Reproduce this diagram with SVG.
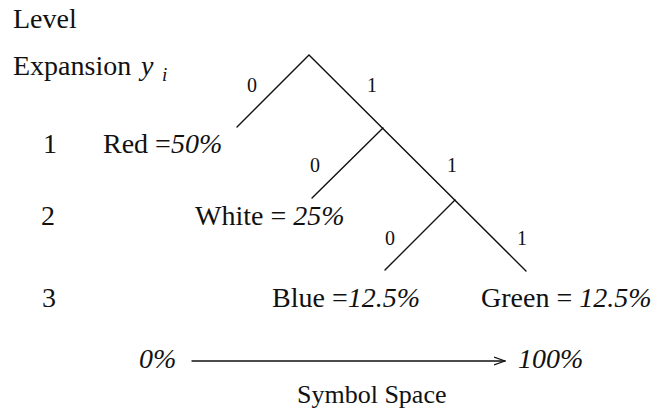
<svg xmlns="http://www.w3.org/2000/svg" width="657" height="413" viewBox="0 0 657 413">
<defs>
<style>
text { font-family: "Liberation Serif", "Times New Roman", serif; fill: #111; }
.t { font-size: 28px; }
.lbl { font-size: 20px; text-anchor: middle; }
.it { font-family: "Liberation Serif", "DejaVu Serif", serif; font-style: italic; }
.edge { stroke: #111; stroke-width: 1.4; fill: none; stroke-linecap: round; }
</style>
<marker id="arr" viewBox="0 0 12 10" refX="11" refY="5" markerWidth="12" markerHeight="10" markerUnits="userSpaceOnUse" orient="auto">
<path d="M0,1 L11,5 L0,9" fill="none" stroke="#111" stroke-width="1.2"/>
</marker>
</defs>
<rect width="657" height="413" fill="#fff"/>

<g id="header">
<text class="t" x="13" y="28">Level</text>
<text class="t" x="13" y="75">Expansion <tspan class="it" x="141">y</tspan><tspan class="it" font-size="19" x="162" y="81">i</tspan></text>
</g>

<g id="levels">
<text class="t" x="43" y="153">1</text>
<text class="t" x="41" y="225">2</text>
<text class="t" x="42" y="307">3</text>
</g>

<g id="connectors">
<path class="edge" d="M237,127 L309,55 L526,271"/>
<path class="edge" d="M383,128 L312,198"/>
<path class="edge" d="M455,200 L385,270"/>
<path class="edge" d="M192,361 L505,361" marker-end="url(#arr)"/>
</g>

<g id="edge-labels">
<text class="lbl" x="252" y="92">0</text>
<text class="lbl" x="372" y="92">1</text>
<text class="lbl" x="315" y="172">0</text>
<text class="lbl" x="452" y="172">1</text>
<text class="lbl" x="390" y="245">0</text>
<text class="lbl" x="522" y="245">1</text>
</g>

<g id="node-red">
<text class="t" x="103" y="153">Red =<tspan class="it">50%</tspan></text>
</g>
<g id="node-white">
<text class="t" x="195" y="225">White = <tspan class="it">25%</tspan></text>
</g>
<g id="node-blue">
<text class="t" x="272" y="307">Blue =<tspan class="it">12.5%</tspan></text>
</g>
<g id="node-green">
<text class="t" x="481" y="307">Green = <tspan class="it">12.5%</tspan></text>
</g>

<g id="axis">
<text class="t it" x="139" y="368">0%</text>
<text class="t it" x="518" y="368">100%</text>
<text x="297" y="403" font-size="26">Symbol Space</text>
</g>
</svg>
